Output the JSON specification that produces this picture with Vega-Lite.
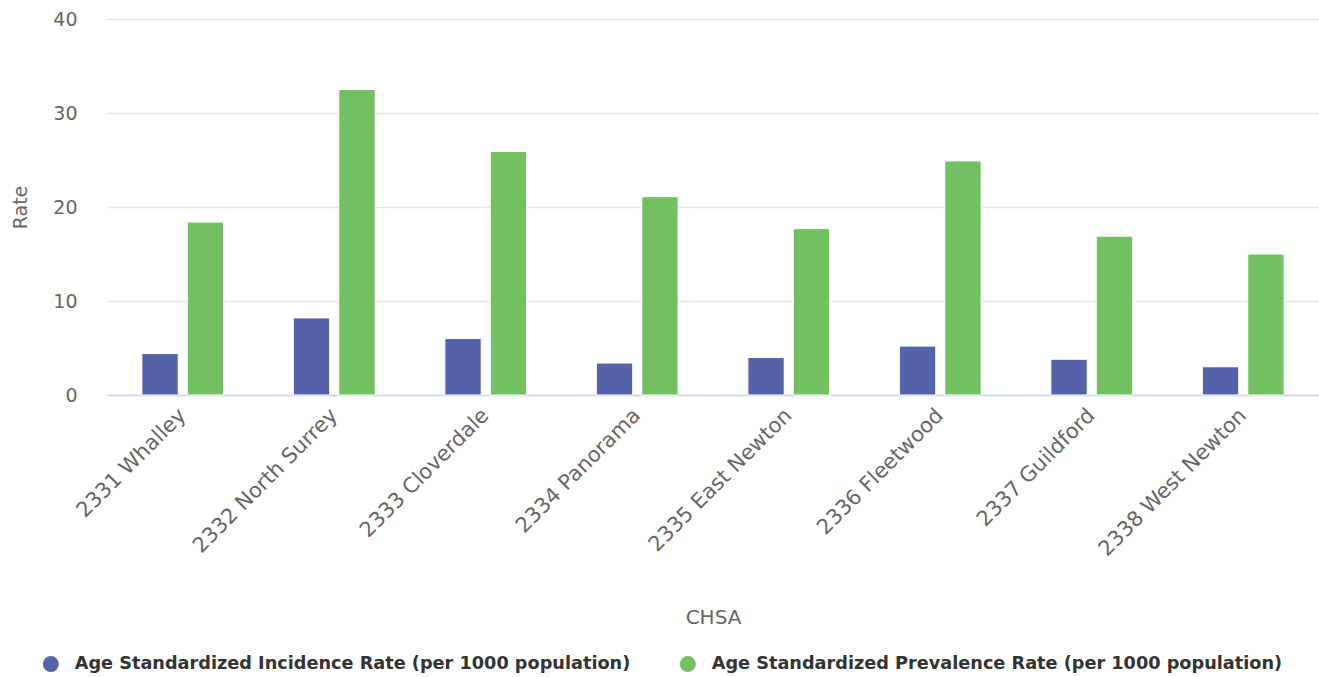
{
  "$schema": "https://vega.github.io/schema/vega-lite/v6.json",
  "autosize": {"type": "none"},
  "padding": {"left": 107, "top": 19, "right": 0, "bottom": 282},
  "width": 1212,
  "height": 376,
  "background": "white",
  "config": {
    "font": "DejaVu Sans",
    "view": {"stroke": null}
  },
  "data": {
    "values": [
      {"chsa": "2331 Whalley", "measure": "Age Standardized Incidence Rate (per 1000 population)", "rate": 4.4},
      {"chsa": "2331 Whalley", "measure": "Age Standardized Prevalence Rate (per 1000 population)", "rate": 18.4},
      {"chsa": "2332 North Surrey", "measure": "Age Standardized Incidence Rate (per 1000 population)", "rate": 8.2},
      {"chsa": "2332 North Surrey", "measure": "Age Standardized Prevalence Rate (per 1000 population)", "rate": 32.5},
      {"chsa": "2333 Cloverdale", "measure": "Age Standardized Incidence Rate (per 1000 population)", "rate": 6.0},
      {"chsa": "2333 Cloverdale", "measure": "Age Standardized Prevalence Rate (per 1000 population)", "rate": 25.9},
      {"chsa": "2334 Panorama", "measure": "Age Standardized Incidence Rate (per 1000 population)", "rate": 3.4},
      {"chsa": "2334 Panorama", "measure": "Age Standardized Prevalence Rate (per 1000 population)", "rate": 21.1},
      {"chsa": "2335 East Newton", "measure": "Age Standardized Incidence Rate (per 1000 population)", "rate": 4.0},
      {"chsa": "2335 East Newton", "measure": "Age Standardized Prevalence Rate (per 1000 population)", "rate": 17.7},
      {"chsa": "2336 Fleetwood", "measure": "Age Standardized Incidence Rate (per 1000 population)", "rate": 5.2},
      {"chsa": "2336 Fleetwood", "measure": "Age Standardized Prevalence Rate (per 1000 population)", "rate": 24.9},
      {"chsa": "2337 Guildford", "measure": "Age Standardized Incidence Rate (per 1000 population)", "rate": 3.8},
      {"chsa": "2337 Guildford", "measure": "Age Standardized Prevalence Rate (per 1000 population)", "rate": 16.9},
      {"chsa": "2338 West Newton", "measure": "Age Standardized Incidence Rate (per 1000 population)", "rate": 3.0},
      {"chsa": "2338 West Newton", "measure": "Age Standardized Prevalence Rate (per 1000 population)", "rate": 15.0}
    ]
  },
  "mark": {"type": "bar", "stroke": "white", "strokeWidth": 1},
  "encoding": {
    "x": {
      "field": "chsa",
      "type": "nominal",
      "sort": null,
      "scale": {"paddingInner": 0.4, "paddingOuter": 0.2},
      "axis": {
        "title": "CHSA",
        "titleFontSize": 20,
        "titleFontWeight": "normal",
        "titleColor": "#666666",
        "titlePadding": 48,
        "labelAngle": -45,
        "labelAlign": "right",
        "labelBaseline": "middle",
        "labelFontSize": 21,
        "labelColor": "#666666",
        "labelPadding": 17,
        "labelLimit": 300,
        "domainColor": "#ccd6eb",
        "domainWidth": 1.5,
        "ticks": false,
        "grid": false
      }
    },
    "xOffset": {
      "field": "measure",
      "type": "nominal",
      "scale": {"paddingInner": 0.2, "paddingOuter": 0.1}
    },
    "y": {
      "field": "rate",
      "type": "quantitative",
      "scale": {"domain": [0, 40], "nice": false},
      "axis": {
        "title": "Rate",
        "titleFontSize": 19,
        "titleFontWeight": "normal",
        "titleColor": "#666666",
        "titlePadding": 22,
        "values": [0, 10, 20, 30, 40],
        "labelFontSize": 19,
        "labelColor": "#666666",
        "labelPadding": 30,
        "domain": false,
        "ticks": false,
        "gridColor": "#e6e6e6",
        "gridWidth": 1.5
      }
    },
    "color": {
      "field": "measure",
      "type": "nominal",
      "scale": {"range": ["#5463a8", "#73c063"]},
      "legend": {
        "title": null,
        "orient": "none",
        "direction": "horizontal",
        "legendX": -65,
        "legendY": 636,
        "symbolType": "circle",
        "symbolSize": 256,
        "symbolStrokeWidth": 0,
        "labelFontSize": 17.7,
        "labelFontWeight": "bold",
        "labelColor": "#333333",
        "labelOffset": 15,
        "labelLimit": 700,
        "columnPadding": 48
      }
    }
  }
}
